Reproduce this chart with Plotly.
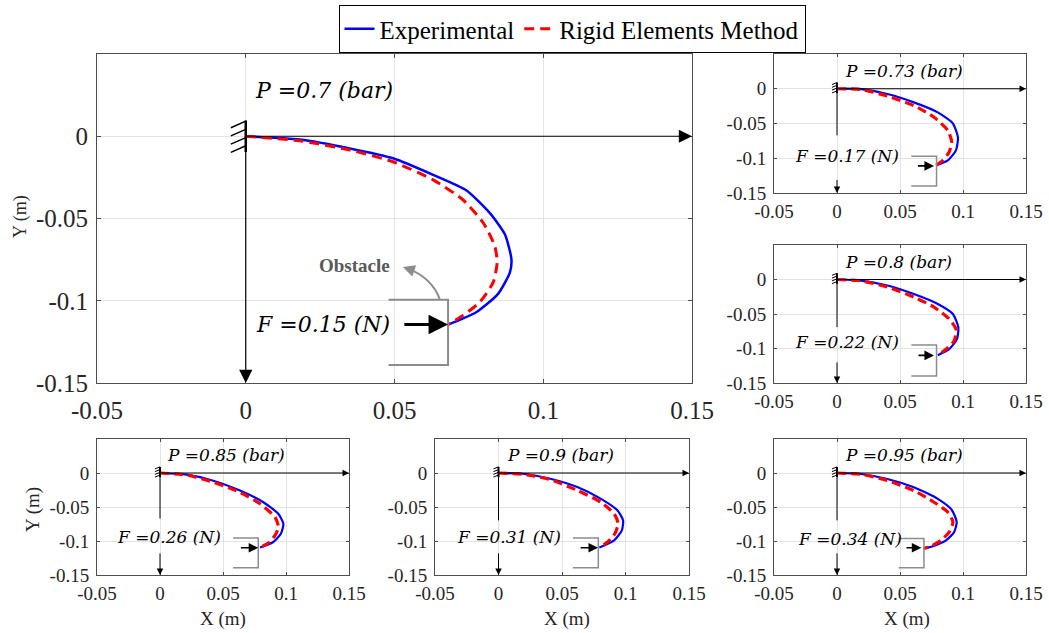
import plotly.graph_objects as go

# ---------------- data ----------------
pressures = ["0.7", "0.73", "0.8", "0.85", "0.9", "0.95"]
forces = ["0.15", "0.17", "0.22", "0.26", "0.31", "0.34"]

x_ticks = [-0.05, 0, 0.05, 0.1, 0.15]
x_tick_text = ["-0.05", "0", "0.05", "0.1", "0.15"]
y_ticks = [-0.15, -0.1, -0.05, 0]
y_tick_text = ["-0.15", "-0.1", "-0.05", "0"]

exp_x_070 = [0, 0.0182, 0.035, 0.0495, 0.063, 0.0742, 0.082, 0.0871, 0.0893, 0.0888, 0.0848, 0.0776, 0.068]
exp_y_070 = [0, -0.0020, -0.0074, -0.0134, -0.0235, -0.033, -0.0466, -0.0596, -0.0747, -0.0827, -0.0958, -0.1068, -0.1145]
rem_x_070 = [0, 0.0182, 0.035, 0.0495, 0.063, 0.073, 0.0798, 0.0837, 0.0845, 0.0832, 0.0787, 0.073, 0.068]
rem_y_070 = [0, -0.0028, -0.0084, -0.0155, -0.0265, -0.0386, -0.0526, -0.0667, -0.0767, -0.0887, -0.1008, -0.1089, -0.1145]

exp_x_073 = [0, 0.019, 0.040, 0.061, 0.080, 0.092, 0.096, 0.0944, 0.088, 0.0786]
exp_y_073 = [0, -0.0005, -0.0076, -0.0196, -0.034, -0.050, -0.070, -0.0886, -0.103, -0.110]
rem_x_073 = [0, 0.019, 0.040, 0.061, 0.077, 0.088, 0.091, 0.089, 0.084, 0.0786]
rem_y_073 = [0, -0.001, -0.0105, -0.0243, -0.041, -0.060, -0.0767, -0.091, -0.103, -0.110]

exp_x_080 = [0, 0.019, 0.040, 0.061, 0.080, 0.092, 0.0963, 0.0952, 0.089, 0.080]
exp_y_080 = [0, -0.0015, -0.0087, -0.021, -0.0354, -0.050, -0.0694, -0.0865, -0.101, -0.1097]
rem_x_080 = [0, 0.019, 0.040, 0.061, 0.077, 0.089, 0.0944, 0.093, 0.0865, 0.080]
rem_y_080 = [0, -0.002, -0.011, -0.0255, -0.040, -0.057, -0.0718, -0.089, -0.101, -0.1097]

exp_x_085 = [0, 0.0212, 0.0423, 0.0635, 0.082, 0.0939, 0.0979, 0.096, 0.0899, 0.0794]
exp_y_085 = [0, -0.0025, -0.0113, -0.0259, -0.043, -0.060, -0.0746, -0.089, -0.1015, -0.1096]
rem_x_085 = [0, 0.0212, 0.0423, 0.0635, 0.0794, 0.0913, 0.094, 0.0913, 0.086, 0.0794]
rem_y_085 = [0, -0.003, -0.0137, -0.0285, -0.0453, -0.0649, -0.0795, -0.0917, -0.103, -0.1096]

exp_x_090 = [0, 0.0208, 0.0416, 0.0625, 0.0807, 0.0937, 0.0981, 0.0971, 0.0911, 0.0794]
exp_y_090 = [0, -0.0015, -0.0088, -0.021, -0.038, -0.055, -0.0697, -0.0843, -0.099, -0.1096]
rem_x_090 = [0, 0.0208, 0.0416, 0.0625, 0.0807, 0.0911, 0.0942, 0.0917, 0.0859, 0.0794]
rem_y_090 = [0, -0.002, -0.0102, -0.0259, -0.043, -0.060, -0.0746, -0.089, -0.1015, -0.1096]

exp_x_095 = [0, 0.019, 0.040, 0.061, 0.080, 0.091, 0.095, 0.093, 0.0865, 0.076, 0.069]
exp_y_095 = [0, -0.0015, -0.0088, -0.021, -0.038, -0.054, -0.072, -0.0868, -0.099, -0.1077, -0.111]
rem_x_095 = [0, 0.019, 0.040, 0.061, 0.077, 0.088, 0.092, 0.089, 0.0825, 0.0746, 0.069]
rem_y_095 = [0, -0.002, -0.011, -0.0259, -0.043, -0.0576, -0.072, -0.0868, -0.099, -0.1077, -0.111]

experimental = [(exp_x_070, exp_y_070), (exp_x_073, exp_y_073), (exp_x_080, exp_y_080),
                (exp_x_085, exp_y_085), (exp_x_090, exp_y_090), (exp_x_095, exp_y_095)]
rigid = [(rem_x_070, rem_y_070), (rem_x_073, rem_y_073), (rem_x_080, rem_y_080),
         (rem_x_085, rem_y_085), (rem_x_090, rem_y_090), (rem_x_095, rem_y_095)]

# ---------------- layout / annotation geometry (not data) ----------------
W, H = 1049, 633


def dom_x(a, b):
    return [a / W, b / W]


def dom_y(top, bottom):
    return [1 - bottom / H, 1 - top / H]


panels = [
    # main
    dict(xd=dom_x(97, 692), yd=dom_y(54, 383), big=True,
         p_x=0.0024, p_y=0.0277, f_x=0.0491, f_y=-0.1145,
         fa=(0.0528, 0.068, -0.1145), ob=(0.048, 0.068, -0.0994, -0.139), gap=None),
    dict(xd=dom_x(774, 1026), yd=dom_y(54, 193), big=False,
         p_x=0.005, p_y=0.0257, f_x=0.0508, f_y=-0.097,
         fa=(0.063, 0.077, -0.111), ob=(0.059, 0.079, -0.097, -0.14), gap=(-0.067, -0.129)),
    dict(xd=dom_x(774, 1026), yd=dom_y(245, 383), big=False,
         p_x=0.005, p_y=0.0258, f_x=0.0508, f_y=-0.091,
         fa=(0.0635, 0.077, -0.11), ob=(0.059, 0.079, -0.095, -0.14), gap=(-0.069, -0.118)),
    dict(xd=dom_x(97, 349), yd=dom_y(439, 575), big=False,
         p_x=0.004, p_y=0.0267, f_x=0.050, f_y=-0.0946,
         fa=(0.063, 0.078, -0.11), ob=(0.058, 0.078, -0.0956, -0.1395), gap=(-0.067, -0.116)),
    dict(xd=dom_x(435, 689), yd=dom_y(439, 575), big=False,
         p_x=0.005, p_y=0.0267, f_x=0.0508, f_y=-0.0946,
         fa=(0.0635, 0.0784, -0.11), ob=(0.0586, 0.0786, -0.0956, -0.1395), gap=(-0.0697, -0.116)),
    dict(xd=dom_x(774, 1026), yd=dom_y(439, 575), big=False,
         p_x=0.005, p_y=0.0267, f_x=0.053, f_y=-0.097,
         fa=(0.054, 0.067, -0.11), ob=(0.049, 0.069, -0.0965, -0.1395), gap=(-0.0697, -0.116)),
]

SERIF = "Liberation Serif"
LABEL_FONT = "DejaVu Serif"
AXCOL = "#4d4d4d"
TXTCOL = "#262626"
GRIDCOL = "#e3e3e3"
OBSCOL = "#8c8c8c"

fig = go.Figure()
layout = dict(
    width=W, height=H,
    margin=dict(l=0, r=0, t=0, b=0, autoexpand=False),
    paper_bgcolor="white", plot_bgcolor="white",
    showlegend=True,
    legend=dict(orientation="h", x=572 / W, xanchor="center", y=1 - 5 / H, yanchor="top",
                font=dict(family=SERIF, size=25, color="black"),
                bordercolor="black", borderwidth=1, bgcolor="white",
                itemwidth=30, tracegroupgap=0),
)
shapes = []
annotations = []

for i, pnl in enumerate(panels):
    n = "" if i == 0 else str(i + 1)
    xa, ya = "x" + n, "y" + n
    big = pnl["big"]
    tick_size = 25 if big else 19
    layout["xaxis" + n] = dict(
        domain=pnl["xd"], anchor=ya, range=[-0.05, 0.15], autorange=False,
        tickvals=x_ticks, ticktext=x_tick_text, showgrid=True, gridcolor=GRIDCOL, gridwidth=1,
        zeroline=False, showline=True, linecolor=AXCOL, linewidth=1, mirror="ticks",
        ticks="inside", ticklen=4 if big else 3, tickcolor=AXCOL,
        tickfont=dict(family=SERIF, size=tick_size, color=TXTCOL),
        ticklabelstandoff=5 if big else 1, fixedrange=True, automargin=False)
    layout["yaxis" + n] = dict(
        domain=pnl["yd"], anchor=xa, range=[-0.15, 0.05], autorange=False,
        tickvals=y_ticks, ticktext=y_tick_text, showgrid=True, gridcolor=GRIDCOL, gridwidth=1,
        zeroline=False, showline=True, linecolor=AXCOL, linewidth=1, mirror="ticks",
        ticks="inside", ticklen=4 if big else 3, tickcolor=AXCOL,
        tickfont=dict(family=SERIF, size=tick_size, color=TXTCOL),
        ticklabelstandoff=3, fixedrange=True, automargin=False)

    lw_main = 2.5 if big else 2.2
    ex, ey = experimental[i]
    rx, ry = rigid[i]
    fig.add_trace(go.Scatter(x=ex, y=ey, mode="lines", xaxis=xa, yaxis=ya,
                             name="Experimental", showlegend=(i == 0),
                             line=dict(color="#0000ff", width=lw_main, shape="spline", smoothing=0.6)))
    fig.add_trace(go.Scatter(x=rx, y=ry, mode="lines", xaxis=xa, yaxis=ya,
                             name="Rigid Elements Method", showlegend=(i == 0),
                             line=dict(color="#ff0000", width=3 if big else 3.2,
                                       dash="10px,6px" if big else "9px,5px",
                                       shape="spline", smoothing=0.6)))

    # ---- reference frame arrows ----
    annotations.append(dict(xref=xa, yref=ya, axref=xa, ayref=ya, x=0.15, y=0, ax=0, ay=0,
                            text="", showarrow=True, arrowhead=2, arrowsize=2.2 if big else 1.3,
                            arrowwidth=1.2 if big else 1, arrowcolor="black"))
    if pnl["gap"] is None:
        annotations.append(dict(xref=xa, yref=ya, axref=xa, ayref=ya, x=0, y=-0.15, ax=0, ay=0.0095,
                                text="", showarrow=True, arrowhead=2, arrowsize=2.2,
                                arrowwidth=1.2, arrowcolor="black"))
    else:
        g0, g1 = pnl["gap"]
        shapes.append(dict(type="line", xref=xa, yref=ya, x0=0, x1=0, y0=0.008, y1=g0,
                           line=dict(color="black", width=1)))
        annotations.append(dict(xref=xa, yref=ya, axref=xa, ayref=ya, x=0, y=-0.15, ax=0, ay=g1,
                                text="", showarrow=True, arrowhead=2, arrowsize=1.3,
                                arrowwidth=1, arrowcolor="black"))

    # ---- clamped wall with hatch ----
    if big:
        shapes.append(dict(type="line", xref=xa, yref=ya, x0=0, x1=0, y0=0.0096, y1=-0.0096,
                           line=dict(color="black", width=2.5)))
        for yt in [0.0092, 0.0042, -0.0008, -0.0058]:
            shapes.append(dict(type="line", xref=xa, yref=ya, x0=0, x1=-0.005, y0=yt, y1=yt - 0.004,
                               line=dict(color="black", width=1.5)))
    else:
        shapes.append(dict(type="line", xref=xa, yref=ya, x0=0, x1=0, y0=0.009, y1=-0.006,
                           line=dict(color="black", width=2)))
        for yt in [0.009, 0.005, 0.001, -0.003]:
            shapes.append(dict(type="line", xref=xa, yref=ya, x0=0, x1=-0.004, y0=yt, y1=yt - 0.003,
                               line=dict(color="black", width=1)))

    # ---- obstacle bracket ----
    ox0, ox1, oy0, oy1 = pnl["ob"]
    shapes.append(dict(type="path", xref=xa, yref=ya,
                       path=f"M {ox0},{oy0} L {ox1},{oy0} L {ox1},{oy1} L {ox0},{oy1}",
                       line=dict(color=OBSCOL, width=2 if big else 1.5)))

    # ---- force arrow ----
    fx0, fx1, fy = pnl["fa"]
    annotations.append(dict(xref=xa, yref=ya, axref=xa, ayref=ya, x=fx1, y=fy, ax=fx0, ay=fy,
                            text="", showarrow=True, arrowhead=2, arrowsize=1.3 if big else 1.2,
                            arrowwidth=3 if big else 1.6, arrowcolor="black"))

    # ---- text labels ----
    lab_size = 22 if big else 17
    annotations.append(dict(xref=xa, yref=ya, x=pnl["p_x"], y=pnl["p_y"], xanchor="left",
                            yanchor="middle", showarrow=False, text=f"P ={pressures[i]} (bar)",
                            font=dict(family=LABEL_FONT, size=lab_size, color="black", style="italic")))
    annotations.append(dict(xref=xa, yref=ya, x=pnl["f_x"], y=pnl["f_y"], xanchor="right",
                            yanchor="middle", showarrow=False, text=f"F ={forces[i]} (N)",
                            font=dict(family=LABEL_FONT, size=lab_size, color="black", style="italic")))

# obstacle label and curved arrow (main panel)
annotations.append(dict(xref="x", yref="y", x=0.0367, y=-0.0787, showarrow=False, text="<b>Obstacle</b>",
                        font=dict(family=SERIF, size=19, color="#595959")))
shapes.append(dict(type="path", xref="x", yref="y",
                   path="M 0.0652,-0.0990 Q 0.0625,-0.0860 0.0545,-0.0805",
                   line=dict(color=OBSCOL, width=2)))
annotations.append(dict(xref="x", yref="y", axref="x", ayref="y", x=0.0528, y=-0.0795,
                        ax=0.0556, ay=-0.0812, text="", showarrow=True, arrowhead=2,
                        arrowsize=1.2, arrowwidth=2, arrowcolor=OBSCOL))

# axis titles
annotations.append(dict(xref="paper", yref="paper", x=20 / W, y=1 - 217 / H, text="Y (m)",
                        textangle=-90, showarrow=False, xanchor="center", yanchor="middle",
                        font=dict(family=SERIF, size=18, color=TXTCOL)))
annotations.append(dict(xref="paper", yref="paper", x=33 / W, y=1 - 510 / H, text="Y (m)",
                        textangle=-90, showarrow=False, xanchor="center", yanchor="middle",
                        font=dict(family=SERIF, size=19, color=TXTCOL)))
for cx in [223, 567, 907]:
    annotations.append(dict(xref="paper", yref="paper", x=cx / W, y=1 - 619 / H, text="X (m)",
                            showarrow=False, xanchor="center", yanchor="middle",
                            font=dict(family=SERIF, size=19, color=TXTCOL)))

layout["shapes"] = shapes
layout["annotations"] = annotations
fig.update_layout(**layout)
fig.write_html("out.html", config={"displayModeBar": False},
               post_script="document.body.style.margin='0px';document.body.style.overflow='hidden';")
